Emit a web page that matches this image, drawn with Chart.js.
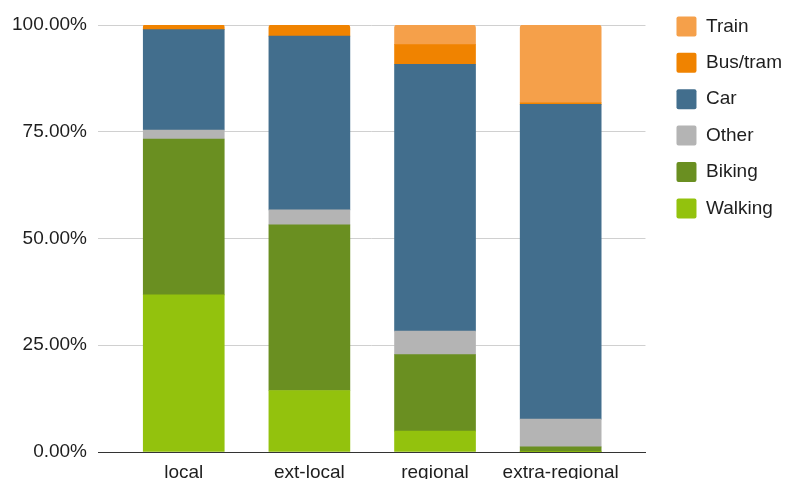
<!DOCTYPE html>
<html>
<head>
<meta charset="utf-8">
<script src="https://cdn.jsdelivr.net/npm/chart.js@4/dist/chart.umd.min.js"></script>
<style>
  html, body { margin: 0; padding: 0; background: #ffffff; }
  #c { display: block; }
</style>
</head>
<body>
<canvas id="c" width="792" height="479"></canvas>
<script>
const categories = ['local', 'ext-local', 'regional', 'extra-regional'];
const walking = [36.8, 14.4, 4.9, 0.1];
const biking  = [36.5, 38.8, 17.9, 1.1];
const other   = [2.1, 3.5, 5.5, 6.5];
const car     = [23.5, 40.7, 62.5, 73.7];
const busTram = [1.1, 2.6, 4.6, 0.4];
const train   = [0, 0, 4.6, 18.2];
const yTicks  = [0, 25, 50, 75, 100];

const FONT = '"Liberation Sans", Arial, Helvetica, sans-serif';
const FS = 19;
Chart.defaults.font.family = FONT;
Chart.defaults.font.size = FS;
Chart.defaults.color = '#1e1e1e';

// measure widest legend text to place legend boxes
const mctx = document.createElement('canvas').getContext('2d');
mctx.font = FS + 'px ' + FONT;
const legendNames = ['Train', 'Bus/tram', 'Car', 'Other', 'Biking', 'Walking'];
const maxW = Math.max(...legendNames.map(t => mctx.measureText(t).width));
const colWidth = 20 + FS / 2 + maxW;
const padRight = Math.max(0, 105 - colWidth);

function series(arr) { return arr.map((v, i) => ({ x: i, y: v })); }

const datasets = [
  { label: 'Walking',  data: series(walking), backgroundColor: '#93C20D' },
  { label: 'Biking',   data: series(biking),  backgroundColor: '#6A8F21' },
  { label: 'Other',    data: series(other),   backgroundColor: '#B4B4B4' },
  { label: 'Car',      data: series(car),     backgroundColor: '#426E8D' },
  { label: 'Bus/tram', data: series(busTram), backgroundColor: '#F08300' },
  { label: 'Train',    data: series(train),   backgroundColor: '#F5A04A' }
].map(d => Object.assign(d, { barThickness: 81, borderRadius: 3, borderWidth: 0 }));

new Chart(document.getElementById('c'), {
  type: 'bar',
  data: { datasets },
  options: {
    responsive: false,
    animation: false,
    devicePixelRatio: 1,
    layout: { padding: { left: 0, right: padRight, top: 0, bottom: 0 } },
    plugins: {
      title: { display: true, text: ' ', font: { size: 10, lineHeight: 1 }, padding: { top: 15, bottom: 0 } },
      tooltip: { enabled: false },
      legend: {
        position: 'right',
        align: 'start',
        reverse: true,
        labels: {
          boxWidth: 20,
          boxHeight: 20,
          padding: 16.4,
          useBorderRadius: true,
          borderRadius: 2,
          color: '#1e1e1e',
          font: { size: FS }
        }
      }
    },
    scales: {
      x: {
        type: 'linear',
        stacked: true,
        offset: false,
        min: -0.6825,
        max: 3.675,
        grid: { display: false, offset: false },
        border: { display: true, color: '#333333', width: 1 },
        afterBuildTicks: s => { s.ticks = categories.map((c, i) => ({ value: i })); },
        afterFit: s => { s.height = 27; },
        ticks: {
          autoSkip: false,
          maxRotation: 0,
          includeBounds: false,
          stepSize: 1,
          padding: 1,
          color: '#1e1e1e',
          callback: v => (Number.isInteger(v) && categories[v] !== undefined) ? categories[v] : ''
        }
      },
      y: {
        stacked: true,
        min: 0,
        max: 100,
        border: { display: false },
        grid: { color: '#d0d0d0', lineWidth: 1, drawTicks: false },
        afterBuildTicks: s => { s.ticks = yTicks.map(v => ({ value: v })); },
        afterFit: s => { s.width = 98; },
        ticks: {
          padding: 11,
          color: '#1e1e1e',
          callback: v => Number(v).toFixed(2) + '%'
        }
      },
      gap: {
        type: 'linear',
        position: 'right',
        display: true,
        grid: { display: false },
        border: { display: false },
        ticks: { display: false },
        afterFit: s => { s.width = 14.6; }
      }
    }
  }
});
</script>
</body>
</html>
